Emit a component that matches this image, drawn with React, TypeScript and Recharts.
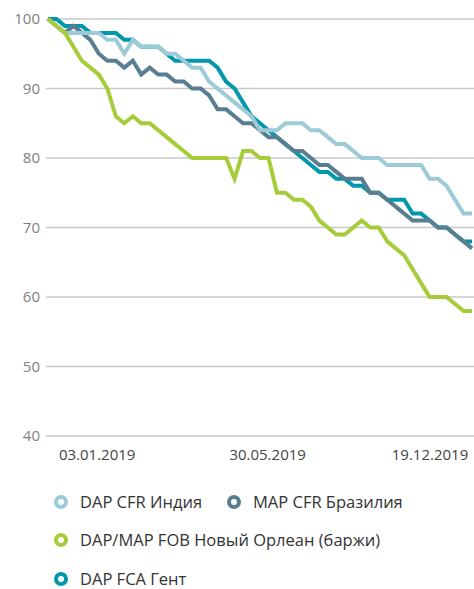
import { LineChart, Line, XAxis, YAxis, CartesianGrid } from 'recharts'

// weekly index values, 51 points
const dapIndia = [
  100, 99, 98, 98, 98, 98, 98, 97, 97, 95, 97, 96, 96, 96, 95, 95, 94, 93, 93, 91,
  90, 89, 88, 87, 86, 84, 84, 84, 85, 85, 85, 84, 84, 83, 82, 82, 81, 80, 80, 80,
  79, 79, 79, 79, 79, 77, 77, 76, 74, 72, 72,
]
const mapBrazil = [
  100, 99, 98, 99, 98, 97, 95, 94, 94, 93, 94, 92, 93, 92, 92, 91, 91, 90, 90, 89,
  87, 87, 86, 85, 85, 84, 83, 83, 82, 81, 81, 80, 79, 79, 78, 77, 77, 77, 75, 75,
  74, 73, 72, 71, 71, 71, 70, 70, 69, 68, 67,
]
const nola = [
  100, 99, 98, 96, 94, 93, 92, 90, 86, 85, 86, 85, 85, 84, 83, 82, 81, 80, 80, 80,
  80, 80, 77, 81, 81, 80, 80, 75, 75, 74, 74, 73, 71, 70, 69, 69, 70, 71, 70, 70,
  68, 67, 66, 64, 62, 60, 60, 60, 59, 58, 58,
]
const ghent = [
  100, 100, 99, 99, 99, 98, 98, 98, 98, 97, 97, 96, 96, 96, 95, 94, 94, 94, 94, 94,
  93, 91, 90, 88, 86, 85, 84, 83, 82, 81, 80, 79, 78, 78, 77, 77, 76, 76, 75, 75,
  74, 74, 74, 72, 72, 71, 70, 70, 69, 68, 68,
]

const tickLabels = ['03.01.2019', '30.05.2019', '19.12.2019']
const tickIdx = [5.8, 25.9, 45.05]
const yTicks = [40, 50, 60, 70, 80, 90, 100]

const series = [
  { key: 'india', name: 'DAP CFR Индия', color: '#9dcad7' },
  { key: 'brazil', name: 'MAP CFR Бразилия', color: '#5a7e91' },
  { key: 'nola', name: 'DAP/MAP FOB Новый Орлеан (баржи)', color: '#a5cd39' },
  { key: 'ghent', name: 'DAP FCA Гент', color: '#0098aa' },
]

const data = dapIndia.map((v, i) => ({
  i,
  india: v,
  brazil: mapBrazil[i],
  nola: nola[i],
  ghent: ghent[i],
}))

const font = '"Open Sans", "Noto Sans", sans-serif'

function Ring({ color }: { color: string }) {
  return (
    <span
      style={{
        display: 'inline-block',
        width: 6,
        height: 6,
        border: `4px solid ${color}`,
        borderRadius: '50%',
        marginRight: 12,
      }}
    />
  )
}

function LegendItem({ s, style }: { s: (typeof series)[number]; style: React.CSSProperties }) {
  return (
    <div style={{ position: 'absolute', display: 'flex', alignItems: 'center', height: 18, ...style }}>
      <Ring color={s.color} />
      <span style={{ fontSize: 16.5, lineHeight: '18px', color: '#333', whiteSpace: 'nowrap' }}>{s.name}</span>
    </div>
  )
}

export default function App() {
  // draw order differs from legend order: light blue sits over teal
  const drawOrder = ['ghent', 'brazil', 'india', 'nola']
  return (
    <div style={{ position: 'absolute', left: 0, top: 0, width: 474, height: 589, background: '#fff', fontFamily: font }}>
      <LineChart width={474} height={589} data={data} margin={{ top: 19, right: 0, bottom: 123, left: 0 }}>
        <CartesianGrid vertical={false} stroke="#c8c8c8" strokeWidth={1.5} />
        <XAxis
          dataKey="i"
          type="number"
          domain={[0, 50]}
          ticks={tickIdx}
          padding={{ left: 2, right: 2 }}
          height={30}
          axisLine={false}
          tickLine={false}
          tickSize={8}
          tickMargin={5}
          interval={0}
          tick={{ fontSize: 15, fill: '#444', fontFamily: font }}
          tickFormatter={(_v: number, idx: number) => tickLabels[idx]}
        />
        <YAxis
          domain={[40, 100]}
          ticks={yTicks}
          width={46}
          axisLine={false}
          tickLine={false}
          tickSize={6}
          tickMargin={0}
          tick={{ fontSize: 15, fill: '#808080', fontFamily: font }}
        />
        {drawOrder.map((k) => {
          const s = series.find((x) => x.key === k)!
          return (
            <Line
              key={k}
              dataKey={k}
              name={s.name}
              stroke={s.color}
              strokeWidth={4}
              dot={false}
              type="linear"
              isAnimationActive={false}
            />
          )
        })}
      </LineChart>
      <LegendItem s={series[0]} style={{ left: 54, top: 493 }} />
      <LegendItem s={series[1]} style={{ left: 227, top: 493 }} />
      <LegendItem s={series[2]} style={{ left: 54, top: 531 }} />
      <LegendItem s={series[3]} style={{ left: 54, top: 570 }} />
    </div>
  )
}
